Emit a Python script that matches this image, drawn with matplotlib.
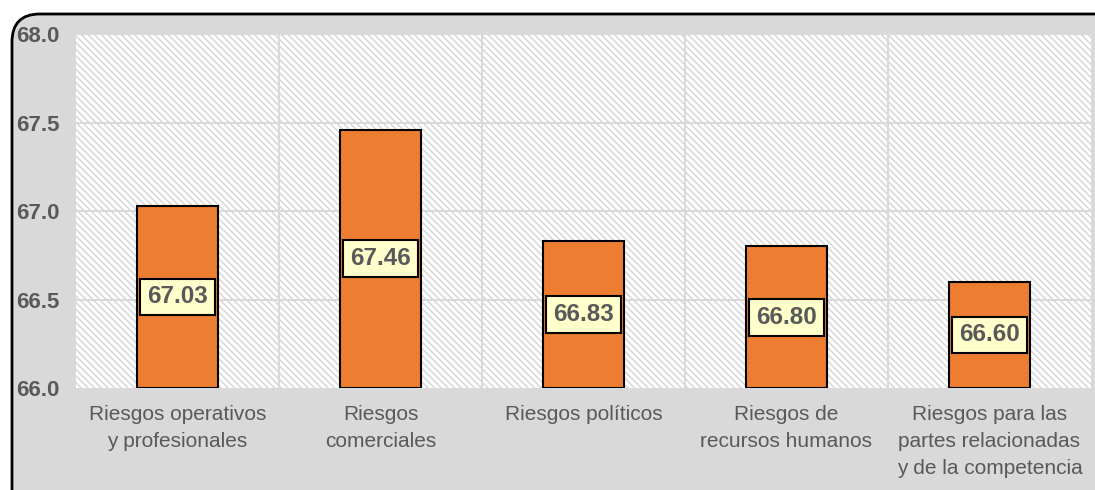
import matplotlib
matplotlib.use("Agg")
import matplotlib.pyplot as plt
from matplotlib.patches import FancyBboxPatch, Rectangle

categories = ["Riesgos operativos\ny profesionales", "Riesgos\ncomerciales",
              "Riesgos políticos", "Riesgos de\nrecursos humanos",
              "Riesgos para las\npartes relacionadas\ny de la competencia"]
values = [67.03, 67.46, 66.83, 66.80, 66.60]
yticks = [66.0, 66.5, 67.0, 67.5, 68.0]

plt.rcParams['font.family'] = ['Liberation Sans', 'DejaVu Sans']
plt.rcParams['hatch.linewidth'] = 1.0
plt.rcParams['hatch.color'] = '#d4d4d4'

W, H = 1095, 490
fig = plt.figure(figsize=(W/100, H/100), dpi=100)
fig.patch.set_facecolor('white')

# background axes in pixel coordinates for the rounded frame
bg = fig.add_axes([0, 0, 1, 1], zorder=-1)
bg.set_xlim(0, W)
bg.set_ylim(H, 0)
bg.axis('off')
bg.add_patch(FancyBboxPatch((12, 14), 1200, 600,
                            boxstyle="round,pad=0,rounding_size=28",
                            facecolor='#d9d9d9', edgecolor='black', linewidth=2))

ax = fig.add_axes([76/W, 1 - 388/H, (1091-76)/W, (388-34)/H], zorder=1)
ax.set_facecolor('white')
ax.add_patch(Rectangle((0, 0), 1, 1, transform=ax.transAxes, facecolor='white',
                       edgecolor='#d4d4d4', hatch='\\\\\\\\\\', linewidth=0, zorder=0))

x = list(range(len(categories)))
ax.bar(x, [v - 66.0 for v in values], bottom=66.0, width=0.4, color='#ED7D31',
       edgecolor='black', linewidth=1.5, zorder=3)

for xi, v in zip(x, values):
    ax.text(xi, (66.0 + v) / 2, f"{v:.2f}", ha='center', va='center',
            fontsize=17.5, fontweight='bold', color='#595959', zorder=4,
            bbox=dict(boxstyle='square,pad=0.28', facecolor='#FFFFCC',
                      edgecolor='black', linewidth=1.5))

ax.set_xlim(-0.5, len(categories) - 0.5)
ax.set_ylim(66.0, 68.0)
ax.set_yticks(yticks)
ax.set_yticklabels([f"{t:.1f}" for t in yticks], fontsize=16, fontweight='bold',
                   color='#595959', ha='left')
ax.tick_params(axis='y', length=0, pad=60/100*72)
ax.set_xticks(x)
ax.set_xticklabels(categories, fontsize=15, color='#595959', linespacing=1.55)
ax.tick_params(axis='x', length=0, pad=12)

for yv in [66.5, 67.0, 67.5, 68.0]:
    ax.axhline(yv, color='#d9d9d9', linewidth=1.5, zorder=1)
for xb in [0.5, 1.5, 2.5, 3.5]:
    ax.axvline(xb, color='#d9d9d9', linewidth=1.5, zorder=1)

for s in ax.spines.values():
    s.set_visible(False)

fig.savefig("out.png", dpi=100)
